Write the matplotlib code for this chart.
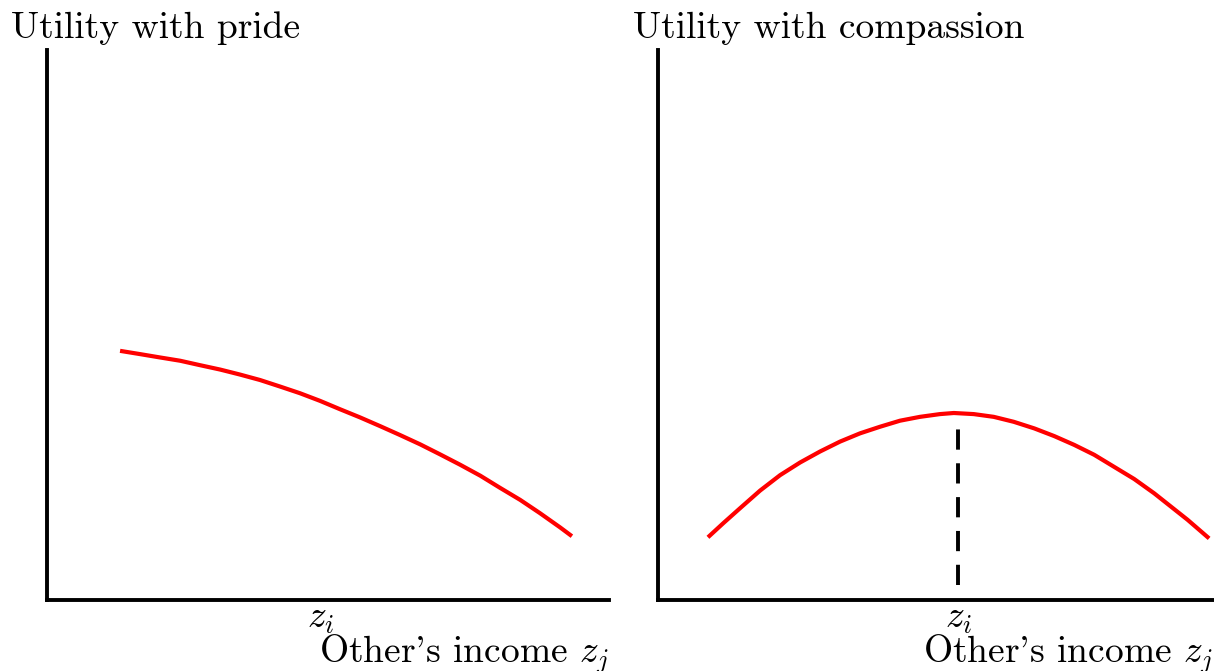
import matplotlib
matplotlib.use("Agg")
import matplotlib.pyplot as plt

plt.rcParams['font.family'] = 'cmr10'
plt.rcParams['mathtext.fontset'] = 'cm'
plt.rcParams['axes.formatter.use_mathtext'] = True

# values (axis units 0..10)
pride_x = [1.30, 1.66, 2.01, 2.37, 2.72, 3.08, 3.43, 3.79, 4.15, 4.50, 4.86, 5.21,
           5.57, 5.93, 6.28, 6.64, 6.99, 7.35, 7.71, 8.06, 8.42, 8.77, 9.13, 9.34]
pride_y = [4.53, 4.47, 4.41, 4.35, 4.27, 4.19, 4.10, 4.00, 3.88, 3.76, 3.62, 3.47,
           3.32, 3.16, 3.00, 2.83, 2.65, 2.46, 2.26, 2.04, 1.82, 1.58, 1.32, 1.16]

comp_x = [0.90, 1.18, 1.48, 1.84, 2.20, 2.56, 2.92, 3.28, 3.64, 4.00, 4.36, 4.72, 5.08,
          5.33, 5.69, 6.05, 6.41, 6.78, 7.14, 7.50, 7.86, 8.22, 8.58, 8.94, 9.24, 9.54, 9.93]
comp_y = [1.14, 1.40, 1.67, 1.99, 2.27, 2.50, 2.70, 2.88, 3.03, 3.15, 3.26, 3.33, 3.38,
          3.40, 3.38, 3.33, 3.24, 3.12, 2.98, 2.82, 2.64, 2.42, 2.20, 1.94, 1.70, 1.46, 1.12]

zi_pride = 4.86
zi_comp = 5.41
peak_line = [0.27, 3.20]

titles = ["Utility with pride", "Utility with compassion"]
xlabel = r"Other's income $z_j$"
ticklabel = r"$z_i$"

fig = plt.figure(figsize=(12.14, 6.71), dpi=100)
ax1 = fig.add_axes([47 / 1214, 71 / 671, 562 / 1214, 550 / 671])
ax2 = fig.add_axes([658 / 1214, 71 / 671, 555 / 1214, 550 / 671])

ax1.plot(pride_x, pride_y, color='#ff0000', lw=3, solid_capstyle='butt', clip_on=False)
ax2.plot(comp_x, comp_y, color='#ff0000', lw=3, solid_capstyle='butt', clip_on=False)
ax2.plot([zi_comp, zi_comp], peak_line, color='black', lw=2.8, dashes=(5.2, 3.5))

for ax, title, zi, width, offset in [(ax1, titles[0], zi_pride, 562, -36),
                                     (ax2, titles[1], zi_comp, 555, -25)]:
    ax.set_xlim(0, 10)
    ax.set_ylim(0, 10)
    for side in ['top', 'right']:
        ax.spines[side].set_visible(False)
    for side in ['left', 'bottom']:
        ax.spines[side].set_linewidth(2.8)
    ax.set_yticks([])
    ax.set_xticks([zi])
    ax.set_xticklabels([ticklabel], fontsize=27)
    ax.tick_params(axis='x', length=0, pad=2)
    ax.set_xlabel(xlabel, fontsize=27, ha='right', va='baseline')
    ax.xaxis.set_label_coords(1.0, -0.113)
    ax.text(offset / width, 1.022, title, transform=ax.transAxes, fontsize=27,
            ha='left', va='baseline')

fig.savefig("out.png", dpi=100)
